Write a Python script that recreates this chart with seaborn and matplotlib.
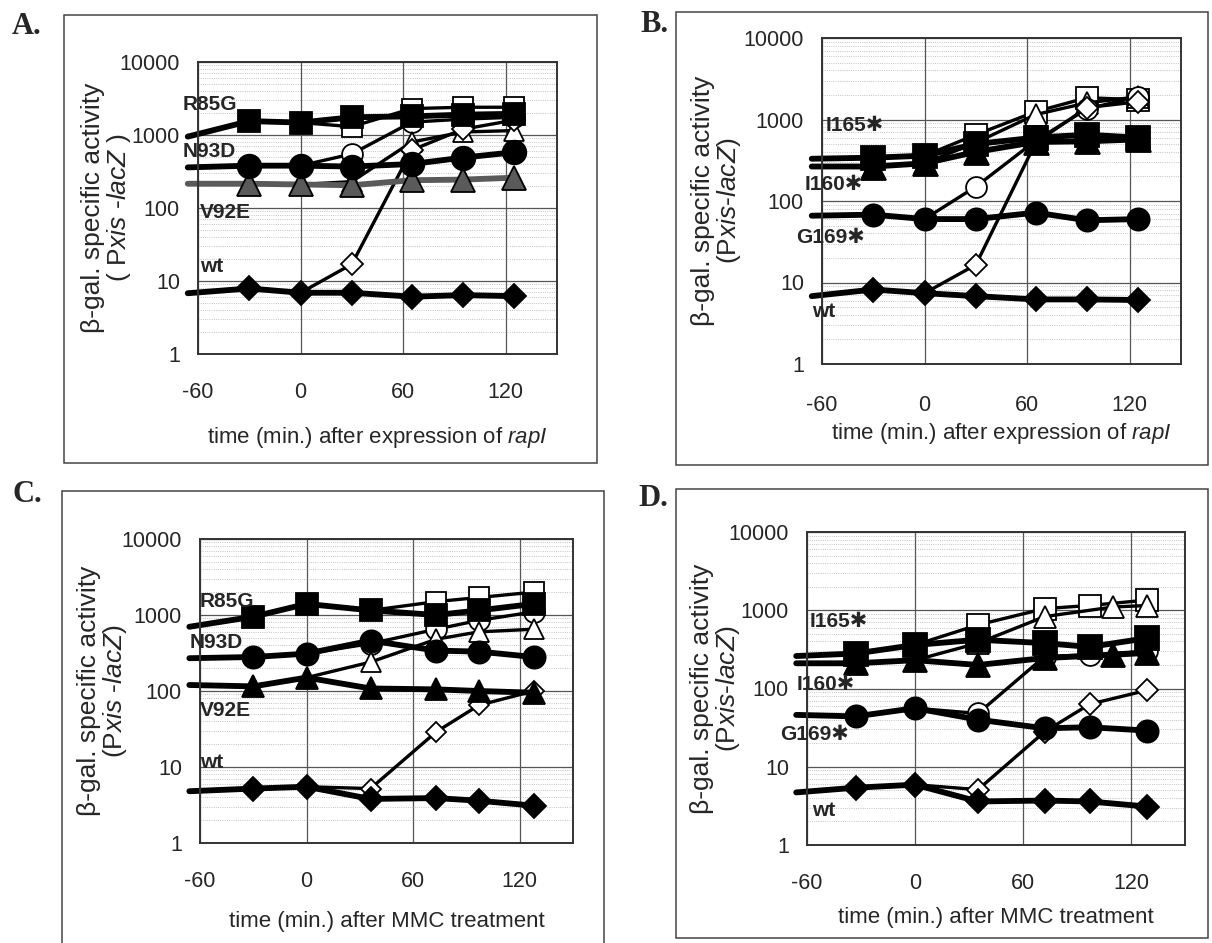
import numpy as np
import pandas as pd
import matplotlib
matplotlib.use("Agg")
import matplotlib.pyplot as plt
import matplotlib.ticker as mticker
from matplotlib.patches import Rectangle
import seaborn as sns

# values (first point = line start left of axis, no marker)
# A: rapI expression, R85G / N93D / V92E / wt  (filled = -rapI, open = +rapI)
a_time = [-66, -30, 0, 30, 65, 95, 125]
a_r85g = [950, 1550, 1480, 1750, 1800, 1900, 1950]
a_r85g_rap = [950, 1550, 1480, 1300, 2300, 2400, 2400]
a_n93d = [360, 380, 380, 370, 400, 490, 580]
a_n93d_rap = [360, 380, 380, 550, 1500, 1650, 1750]
a_v92e = [215, 215, 210, 205, 240, 245, 260]
a_v92e_rap = [215, 215, 210, 230, 800, 1100, 1150]
a_wt = [6.8, 7.9, 6.9, 6.9, 6.1, 6.4, 6.2]
a_wt_rap = [6.8, 7.9, 6.9, 17, 620, 1200, 1600]

# B: rapI expression, I165* / I160* / G169* / wt
b_time = [-66, -30, 0, 30, 65, 95, 125]
b_i165 = [330, 340, 360, 500, 600, 650, 600]
b_i165_rap = [330, 340, 360, 650, 1250, 1850, 1750]
b_i160 = [265, 265, 290, 400, 530, 540, 570]
b_i160_rap = [265, 265, 290, 520, 1150, 1600, 1900]
b_g169 = [66, 68, 60, 60, 72, 58, 60]
b_g169_rap = [66, 68, 60, 150, 550, 1350, 1900]
b_wt = [6.8, 8.2, 7.4, 6.8, 6.2, 6.2, 6.1]
b_wt_rap = [6.8, 8.2, 7.4, 16.5, 520, 1400, 1650]

# C: MMC treatment, R85G / N93D / V92E / wt
c_time = [-66, -30, 0, 36, 73, 97, 128]
c_r85g = [700, 950, 1400, 1150, 1000, 1150, 1400]
c_r85g_rap = [700, 950, 1400, 1150, 1500, 1700, 2000]
c_n93d = [270, 280, 310, 460, 340, 330, 280]
c_n93d_rap = [270, 280, 310, 420, 650, 850, 1100]
c_v92e = [120, 115, 150, 108, 105, 100, 95]
c_v92e_rap = [120, 115, 150, 240, 480, 600, 650]
c_wt = [4.8, 5.2, 5.5, 3.8, 3.9, 3.6, 3.1]
c_wt_rap = [4.8, 5.2, 5.5, 5.2, 29, 65, 100]

# D: MMC treatment, I165* / I160* / G169* / wt
d_time = [-66, -33, 0, 35, 72, 97, 129]
d_time_tri = [-66, -33, 0, 35, 72, 110, 129]
d_i165 = [260, 280, 360, 420, 380, 340, 440]
d_i165_rap = [260, 280, 360, 650, 1050, 1150, 1350]
d_i160 = [210, 210, 230, 200, 245, 270, 285]
d_i160_rap = [210, 210, 230, 380, 830, 1100, 1150]
d_g169 = [46, 44, 56, 40, 31, 32, 29]
d_g169_rap = [46, 44, 56, 48, 256, 270, 300]
d_wt = [4.7, 5.4, 5.9, 3.6, 3.7, 3.6, 3.1]
d_wt_rap = [4.7, 5.4, 5.9, 5.1, 28, 63, 95]

y_ticks = [1, 10, 100, 1000, 10000]
y_ticklabels = ["1", "10", "100", "1000", "10000"]
x_ticks = [-60, 0, 60, 120]

sns.set_style("white")
plt.rcParams['font.family'] = ['Liberation Sans', 'DejaVu Sans']
plt.rcParams['mathtext.fontset'] = 'custom'
plt.rcParams['mathtext.rm'] = 'Liberation Sans'
plt.rcParams['mathtext.it'] = 'Liberation Sans:italic'
plt.rcParams['axes.unicode_minus'] = False

W, H = 1212, 943
fig = plt.figure(figsize=(W / 100, H / 100), dpi=100)


def px_rect(l, t, r, b):
    return [l / W, 1 - b / H, (r - l) / W, (b - t) / H]


def frame(l, t, r, b):
    fig.patches.append(Rectangle((l / W, 1 - b / H), (r - l) / W, (b - t) / H,
                                 transform=fig.transFigure, fill=False,
                                 ec='#444444', lw=1.1))


def series(ax, t, v, marker, face, lw, ms, color='black'):
    df = pd.DataFrame({'t': t, 'v': v})
    sns.lineplot(data=df, x='t', y='v', ax=ax, color=color, lw=lw,
                 marker=marker, ms=ms, mfc=face, mec='black', mew=1.3,
                 markevery=list(range(1, len(t))), clip_on=False,
                 estimator=None, sort=False, legend=False)


def setup(ax, xlabel, ylabel, tick_off, xlab_off, ylab_x):
    h = ax.get_position().height * H
    ax.set_yscale('log')
    ax.set_ylim(1, 10000)
    ax.set_xlim(-60, 150)
    ax.set_yticks(y_ticks)
    ax.set_yticklabels(y_ticklabels)
    ax.yaxis.set_minor_locator(mticker.LogLocator(base=10, subs=np.arange(2, 10)))
    ax.yaxis.set_minor_formatter(mticker.NullFormatter())
    ax.set_xticks(x_ticks)
    ax.grid(which='major', axis='both', color='#555555', lw=0.9, ls='-')
    ax.grid(which='minor', axis='y', color='#b0b0b0', lw=0.6, ls=':')
    ax.set_axisbelow(True)
    for s in ax.spines.values():
        s.set_color('#333333')
        s.set_linewidth(1.4)
    ax.tick_params(axis='x', which='major', direction='out', length=6,
                   width=1, color='#333333', pad=tick_off, labelsize=15.5)
    ax.tick_params(axis='y', which='both', length=0, pad=13, labelsize=15.5)
    ax.set_xlabel(xlabel, fontsize=16, va='center')
    ax.xaxis.set_label_coords(0.5, -xlab_off / h)
    ax.set_ylabel(ylabel, fontsize=19, va='center', linespacing=1.0)
    ax.yaxis.set_label_coords(ylab_x, 0.5)


def labels(ax, items):
    for x, y, s in items:
        ax.text(x, y, s, fontsize=15, fontweight='bold', ha='left', va='center',
                clip_on=False, family=['Liberation Sans', 'DejaVu Sans'])


open_lw, fill_lw = 2.4, 4.2
xl_rap = r"time (min.) after expression of $\mathit{rapI}$"
xl_mmc = "time (min.) after MMC treatment"

# frames and panel letters
frame(64, 15, 597, 463)
frame(676, 12, 1208, 465)
frame(62, 491, 604, 946)
frame(676, 489, 1208, 938)
for x, y, s in [(12, 12, "A."), (640, 10, "B."), (12, 480, "C."), (638, 484, "D.")]:
    fig.text(x / W, 1 - y / H, s, fontsize=22, fontweight='bold',
             family='Liberation Serif', va='top', ha='left')

# ---- A ----
ax = fig.add_axes(px_rect(198, 62, 557, 354))
series(ax, a_time, a_r85g_rap, 's', 'white', open_lw, 15)
series(ax, a_time, a_n93d_rap, 'o', 'white', open_lw, 15)
series(ax, a_time, a_v92e_rap, '^', 'white', open_lw, 15)
series(ax, a_time, a_wt_rap, 'D', 'white', open_lw, 11)
series(ax, a_time, a_v92e, '^', '#5a5a5a', fill_lw, 17, color='#5a5a5a')
series(ax, a_time, a_n93d, 'o', 'black', fill_lw, 17)
series(ax, a_time, a_r85g, 's', 'black', fill_lw, 16)
series(ax, a_time, a_wt, 'D', 'black', fill_lw, 12.5)
setup(ax, xl_rap, "β-gal. specific activity\n( P$\\mathit{xis}$ -$\\mathit{lacZ}$ )",
      14, 84, -0.253)
labels(ax, [(-69, 2600, "R85G"), (-69, 590, "N93D"), (-59, 88, "V92E"), (-59, 16, "wt")])

# ---- B ----
ax = fig.add_axes(px_rect(822, 38, 1181, 364))
series(ax, b_time, b_i165_rap, 's', 'white', open_lw, 16)
series(ax, b_time, b_i160_rap, '^', 'white', open_lw, 16)
series(ax, b_time, b_g169_rap, 'o', 'white', open_lw, 15)
series(ax, b_time, b_wt_rap, 'D', 'white', open_lw, 11)
series(ax, b_time, b_g169, 'o', 'black', fill_lw, 16)
series(ax, b_time, b_i160, '^', 'black', fill_lw, 18)
series(ax, b_time, b_i165, 's', 'black', fill_lw, 17)
series(ax, b_time, b_wt, 'D', 'black', fill_lw, 12.5)
setup(ax, xl_rap, "β-gal. specific activity\n(P$\\mathit{xis}$-$\\mathit{lacZ}$)",
      16, 69, -0.292)
labels(ax, [(-58, 850, "I165✱"), (-70, 158, "I160✱"), (-75, 36, "G169✱"), (-66, 4.4, "wt")])

# ---- C ----
ax = fig.add_axes(px_rect(200, 539, 573, 843))
series(ax, c_time, c_r85g_rap, 's', 'white', open_lw, 15)
series(ax, c_time, c_n93d_rap, 'o', 'white', open_lw, 15)
series(ax, c_time, c_v92e_rap, '^', 'white', open_lw, 15)
series(ax, c_time, c_wt_rap, 'D', 'white', open_lw, 10.5)
series(ax, c_time, c_v92e, '^', 'black', fill_lw, 16)
series(ax, c_time, c_n93d, 'o', 'black', fill_lw, 16)
series(ax, c_time, c_r85g, 's', 'black', fill_lw, 16)
series(ax, c_time, c_wt, 'D', 'black', fill_lw, 12)
setup(ax, xl_mmc, "β-gal. specific activity\n(P$\\mathit{xis}$ -$\\mathit{lacZ}$)",
      14, 79, -0.26)
labels(ax, [(-60, 1500, "R85G"), (-65.6, 430, "N93D"), (-60, 56, "V92E"), (-60, 11.6, "wt")])

# ---- D ----
ax = fig.add_axes(px_rect(807, 532, 1185, 845))
series(ax, d_time, d_i165_rap, 's', 'white', open_lw, 16)
series(ax, d_time_tri, d_i160_rap, '^', 'white', open_lw, 16)
series(ax, d_time, d_g169_rap, 'o', 'white', open_lw, 15)
series(ax, d_time, d_wt_rap, 'D', 'white', open_lw, 11)
series(ax, d_time, d_g169, 'o', 'black', fill_lw, 16)
series(ax, d_time_tri, d_i160, '^', 'black', fill_lw, 17)
series(ax, d_time, d_i165, 's', 'black', fill_lw, 17)
series(ax, d_time, d_wt, 'D', 'black', fill_lw, 12.5)
setup(ax, xl_mmc, "β-gal. specific activity\n(P$\\mathit{xis}$-$\\mathit{lacZ}$)",
      14, 72, -0.24)
labels(ax, [(-58.3, 720, "I165✱"), (-65.6, 113, "I160✱"), (-75, 26, "G169✱"), (-57, 2.8, "wt")])

plt.savefig("out.png", dpi=100)
